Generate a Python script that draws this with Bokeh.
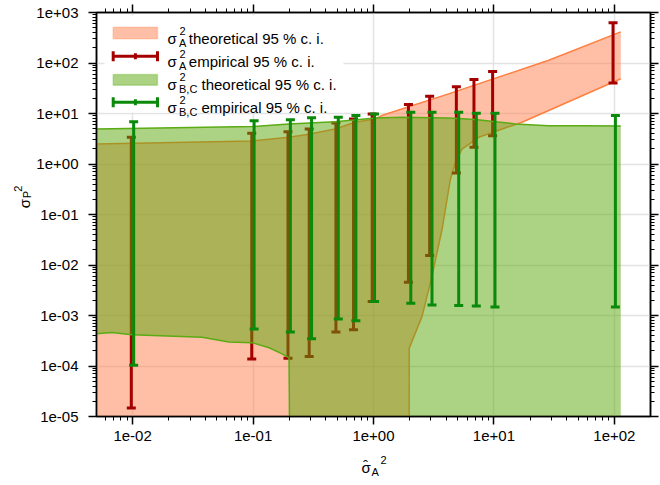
import numpy as np
from bokeh.plotting import figure
from bokeh.layouts import row, column
from bokeh.models import (LogAxis, FixedTicker, CustomJSTickFormatter, Label, BoxAnnotation)
from bokeh.core.properties import value
from bokeh.embed import file_html
from bokeh.resources import INLINE

# ---------------- data ----------------
# theoretical 95 % c.i. of sigma_A^2 (band)
a_up_x = [0.005, 0.098, 0.198, 0.29, 0.48, 0.70, 1.03, 1.17, 4.2, 28.5, 113]
a_up_y = [2.49, 2.85, 3.38, 3.9, 4.94, 6.7, 7.8, 9.1, 24.5, 113, 413]
a_lo_x = [0.005, 1.97, 1.98, 2.53, 3.06, 3.71, 4.35, 4.79, 5.43, 7.48, 11.7, 17.1, 113]
a_lo_y = [0, 0, 2.26e-4, 9.6e-4, 6.0e-3, 0.051, 0.5, 1.08, 1.98, 3.38, 4.94, 6.7, 48.8]

# theoretical 95 % c.i. of sigma_BC^2 (band)
bc_up_x = [0.005, 0.098, 0.198, 0.48, 1.03, 1.72, 4.22, 7.0, 10.3, 15.1, 28.5, 54, 113]
bc_up_y = [4.94, 5.5, 6.2, 6.9, 8.1, 8.4, 8.1, 7.6, 6.9, 6.2, 5.7, 5.7, 5.66]
bc_lo_x = [0.005, 0.0067, 0.0099, 0.0377, 0.063, 0.098, 0.136, 0.174, 0.199, 0.21, 113]
bc_lo_y = [4.35e-4, 4.6e-4, 4.15e-4, 3.7e-4, 3.0e-4, 2.9e-4, 2.3e-4, 1.74e-4, 1.45e-4, 0, 0]

# empirical 95 % c.i.
emp_x = [0.01, 0.1, 0.2, 0.3, 0.5, 0.7, 1, 2, 3, 5, 7, 10, 100]
a_emp_lo = [1.47e-5, 1.38e-4, 1.43e-4, 1.54e-4, 4.7e-4, 5.2e-4, 1.9e-3, 4.55e-3, 0.0155, 0.66, 2.14, 3.64, 40]
a_emp_hi = [3.4, 4.06, 4.36, 4.94, 6.5, 7.8, 9.8, 15, 22, 34, 47, 68, 630]
bc_emp_lo = [1.04e-4, 5.4e-4, 4.7e-4, 3.46e-4, 8.5e-4, 7.9e-4, 1.9e-3, 1.74e-3, 1.62e-3, 1.57e-3, 1.55e-3, 1.48e-3, 1.48e-3]
bc_emp_hi = [6.9, 7.2, 7.5, 8.2, 8.4, 9.1, 9.8, 10.6, 10.6, 10.6, 10.1, 10.1, 9.1]

x_major = [10.0 ** k for k in range(-2, 3)]
y_major = [10.0 ** k for k in range(-5, 4)]

# ---------------- styles ----------------
FONT = "Liberation Sans"
OR_FILL, OR_LINE = "#ff7f50", "#ff7f3f"
GR_FILL, GR_LINE = "#5aa50a", "#5aab14"
RED, GREEN = "#a50000", "#0a8a0a"
FLOOR = 1e-12

# layout geometry (page pixels)
O = 1                     # page offset of the canvas
YL_W = 33                 # width of the y-label strip
BL, BT, BR, BB = 61, 12, 9, 30
FW, FH = 554, 404
XL_H = 36
P_W = BL + FW + BR
P_H = BT + FH + BB


def pos(v):
    v = np.asarray(v, dtype=float)
    return np.where(v <= 0, FLOOR, v)


x_minor = [m * 10.0 ** k for k in range(-3, 3) for m in range(2, 10)]
y_minor = [m * 10.0 ** k for k in range(-6, 4) for m in range(2, 10)]
xt = FixedTicker(ticks=x_major, minor_ticks=x_minor)
yt = FixedTicker(ticks=y_major, minor_ticks=y_minor)

fmt = CustomJSTickFormatter(code="""
const e = Math.round(Math.log10(tick));
const a = Math.abs(e);
return "1e" + (e < 0 ? "-" : "+") + (a < 10 ? "0" : "") + a;
""")
blank = CustomJSTickFormatter(code="return '';")

p = figure(x_axis_type="log", y_axis_type="log",
           x_range=(10 ** -2.3, 10 ** 2.3), y_range=(1e-5, 1e3),
           frame_width=FW, frame_height=FH,
           min_border_left=BL, min_border_right=BR, min_border_top=BT, min_border_bottom=BB,
           output_backend="svg", toolbar_location=None)
p.background_fill_color = "white"
p.border_fill_color = "white"
p.outline_line_color = "black"
p.outline_line_width = 1.5


def style_axis(ax, labels=True):
    ax.axis_line_color = "black"
    ax.axis_line_width = 1.5
    ax.major_tick_line_color = "black"
    ax.minor_tick_line_color = "black"
    ax.major_tick_line_width = 1.5
    ax.minor_tick_line_width = 1
    ax.major_tick_out = 8
    ax.major_tick_in = 0
    ax.minor_tick_out = 4
    ax.minor_tick_in = 0
    ax.major_label_text_font = FONT
    ax.major_label_text_color = "black"
    if labels:
        ax.major_label_text_font_size = "15px"
        ax.formatter = fmt
    else:
        ax.major_label_text_font_size = "1px"
        ax.major_label_standoff = 0
        ax.formatter = blank


p.xaxis.ticker = xt
p.yaxis.ticker = yt
style_axis(p.xaxis[0])
style_axis(p.yaxis[0])
p.xaxis[0].major_label_standoff = 6
p.yaxis[0].major_label_standoff = 10

top = LogAxis(ticker=xt)
right = LogAxis(ticker=yt)
style_axis(top, labels=False)
style_axis(right, labels=False)
p.add_layout(top, "above")
p.add_layout(right, "right")

p.xgrid.grid_line_color = "#e3e3e3"
p.ygrid.grid_line_color = "#e3e3e3"
p.xgrid.grid_line_width = 1.5
p.ygrid.grid_line_width = 1.5

# ---------------- sigma_A^2 theoretical band ----------------
p.patch(list(a_up_x) + list(a_lo_x[::-1]),
        list(pos(a_up_y)) + list(pos(a_lo_y)[::-1]),
        fill_color=OR_FILL, fill_alpha=0.5, line_color=None)
p.line(a_up_x, pos(a_up_y), line_color=OR_LINE, line_width=1.5)
p.line(a_lo_x, pos(a_lo_y), line_color=OR_LINE, line_width=1.5)

# ---------------- sigma_A^2 empirical error bars ----------------
xr = np.asarray(emp_x) * 0.975
p.segment(xr, a_emp_lo, xr, a_emp_hi, line_color=RED, line_width=3)
p.scatter(np.concatenate([xr, xr]), np.concatenate([a_emp_lo, a_emp_hi]),
          marker="dash", size=9, line_color=RED, line_width=3)

# ---------------- sigma_BC^2 theoretical band ----------------
p.patch(list(bc_up_x) + list(bc_lo_x[::-1]),
        list(pos(bc_up_y)) + list(pos(bc_lo_y)[::-1]),
        fill_color=GR_FILL, fill_alpha=0.5, line_color=None)
p.line(bc_up_x, pos(bc_up_y), line_color=GR_LINE, line_width=1.5)
p.line(bc_lo_x, pos(bc_lo_y), line_color=GR_LINE, line_width=1.5)

# ---------------- sigma_BC^2 empirical error bars ----------------
xg = np.asarray(emp_x) * 1.02
p.segment(xg, bc_emp_lo, xg, bc_emp_hi, line_color=GREEN, line_width=3)
p.scatter(np.concatenate([xg, xg]), np.concatenate([bc_emp_lo, bc_emp_hi]),
          marker="dash", size=9, line_color=GREEN, line_width=3)

# ---------------- legend (frame-relative screen coords) ----------------
FL = O + YL_W + BL          # page x of frame left
FB = O + BT + FH            # page y of frame bottom


def lab(px, py, text, size="15px"):
    p.add_layout(Label(x=px - FL, y=FB - py, x_units="screen", y_units="screen",
                       text=text, text_font=FONT, text_font_size=size,
                       text_color="black", text_baseline="alphabetic",
                       text_align="left", level="overlay"))


def box(l, r, t, b, fill, alpha=1.0, line=None, lw=1.0):
    p.add_layout(BoxAnnotation(left=l - FL, right=r - FL, top=FB - t, bottom=FB - b,
                               left_units="screen", right_units="screen",
                               top_units="screen", bottom_units="screen",
                               fill_color=fill, fill_alpha=alpha,
                               line_color=line, line_width=lw, level="overlay"))


box(103, 342, 16, 113, "white")
box(111.7, 156, 27.7, 39.3, OR_FILL, 0.5, OR_LINE, 1.5)
box(111.7, 156, 75, 85.7, GR_FILL, 0.5, GR_LINE, 1.5)
for yc, col in ((56.7, RED), (102.7, GREEN)):
    box(111.7, 156, yc - 1.5, yc + 1.5, col)
    box(110.2, 113.2, yc - 5, yc + 5, col)
    box(154.5, 157.5, yc - 5, yc + 5, col)
    box(132.4, 135.4, yc - 3, yc + 3, col)

rows = [(39, "A", "theoretical 95 % c. i.", 187.3),
        (62, "A", "empirical 95 % c. i.", 187.3),
        (85, "B,C", "theoretical 95 % c. i.", 200),
        (108, "B,C", "empirical 95 % c. i.", 200)]
for base, sub, txt, tx in rows:
    lab(166, base, "σ")
    lab(178, base - 7.3, "2", "11px")
    lab(177.5, base + 4, sub, "11px")
    lab(tx, base, txt)


# ---------------- axis-label strips (plain figures holding text) ----------------
def strip(w, h):
    f = figure(width=w, height=h, x_range=(0, w), y_range=(0, h),
               x_axis_type=None, y_axis_type=None,
               min_border=0, output_backend="svg", toolbar_location=None)
    f.grid.visible = False
    f.outline_line_color = None
    f.background_fill_color = "white"
    f.border_fill_color = "white"
    return f


yfig = strip(YL_W, P_H)
xfig = strip(YL_W + P_W, XL_H)


def put(f, ox, oy, h, px, py, text, size, angle=0.0):
    f.text(x=[px - ox], y=[h - (py - oy)], text=[text], angle=angle,
           text_font=value(FONT), text_font_size=value(size), text_color="black",
           text_baseline="alphabetic", text_align="left")


# y label: sigma_P^2 (rotated)
ang = np.pi / 2
put(yfig, O, O, P_H, 25, 217, "σ", "15px", ang)
put(yfig, O, O, P_H, 27, 206, "P", "11px", ang)
put(yfig, O, O, P_H, 18, 199, "2", "11px", ang)

# x label: sigma-hat_A^2
xo, yo = O, O + P_H
put(xfig, xo, yo, XL_H, 362, 468, "σ", "15px")
put(xfig, xo, yo, XL_H, 363.5, 466, "ˆ", "15px")
put(xfig, xo, yo, XL_H, 372, 472, "A", "11px")
put(xfig, xo, yo, XL_H, 381, 460, "2", "11px")

layout = column(row(yfig, p, spacing=0), xfig, spacing=0)
open("out.html", "w").write(file_html(layout, INLINE))
